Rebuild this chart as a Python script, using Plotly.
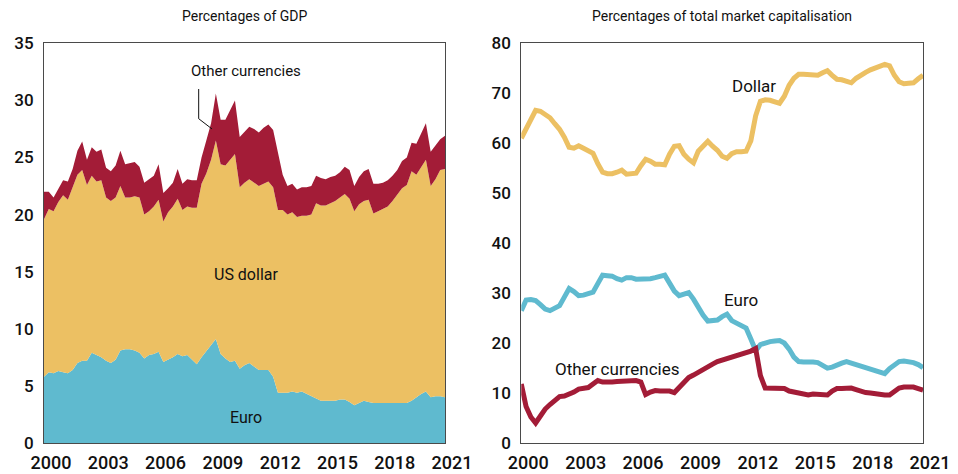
"""Two-panel chart: currency shares as % of GDP and % of market capitalisation."""

import plotly.graph_objects as go
from plotly.subplots import make_subplots

# quarterly observations, 2000 Q1 .. 2021 Q1
quarters = [2000 + q / 4 for q in range(85)]

# left panel: cumulative levels (% of GDP)
gdp_euro = [
    5.8, 6.2, 6.1, 6.3, 6.2, 6.1, 6.4, 7.0, 7.2, 7.2, 7.9, 7.7, 7.5, 7.2, 7.0, 7.3,
    8.1, 8.2, 8.2, 8.1, 7.9, 7.4, 7.7, 7.8, 8.0, 7.1, 7.3, 7.5, 7.8, 7.6, 7.7, 7.3,
    6.9, 7.5, 8.0, 8.6, 9.1, 7.8, 7.4, 7.1, 7.2, 6.5, 6.8, 7.0, 6.7, 6.4, 6.4, 6.4,
    5.8, 4.4, 4.4, 4.4, 4.5, 4.4, 4.5, 4.3, 4.1, 3.9, 3.7, 3.7, 3.7, 3.7, 3.8, 3.8,
    3.6, 3.3, 3.5, 3.7, 3.6, 3.5, 3.5, 3.5, 3.5, 3.5, 3.5, 3.5, 3.5, 3.7, 4.0, 4.3,
    4.5, 4.0, 4.1, 4.1, 4.0,
]
gdp_euro_plus_dollar = [
    19.6, 20.5, 20.3, 21.1, 21.7, 21.3, 22.4, 23.5, 23.9, 22.6, 23.4, 22.9, 23.0, 21.5, 21.2, 21.5,
    22.5, 21.5, 21.5, 21.6, 21.5, 20.0, 20.3, 20.7, 21.3, 19.4, 20.2, 20.7, 21.4, 20.4, 20.7, 20.6,
    20.6, 22.7, 23.6, 24.8, 26.5, 24.4, 24.3, 24.8, 25.3, 22.4, 22.8, 23.1, 22.8, 22.5, 22.7, 22.9,
    22.4, 20.4, 20.4, 20.0, 20.2, 19.8, 19.9, 19.9, 20.0, 21.0, 20.8, 20.8, 21.0, 21.2, 21.5, 21.8,
    21.4, 20.3, 20.9, 21.2, 21.3, 20.1, 20.3, 20.5, 20.7, 21.2, 21.7, 22.3, 22.6, 23.8, 23.5, 24.1,
    24.8, 22.5, 23.1, 23.9, 24.0,
]
gdp_total = [
    22.0, 22.0, 21.5, 22.2, 23.0, 22.9, 24.0, 25.6, 26.4, 24.8, 25.9, 25.5, 25.7, 24.1, 23.8, 24.3,
    25.6, 24.4, 24.5, 24.6, 24.2, 22.8, 23.1, 23.4, 24.4, 21.9, 22.3, 22.8, 24.0, 22.7, 23.1, 23.0,
    23.0, 25.0, 26.5, 28.0, 30.6, 28.3, 28.3, 29.2, 30.0, 26.8, 27.3, 27.7, 27.5, 27.2, 27.6, 27.9,
    27.4, 25.5, 23.5, 22.5, 22.7, 22.2, 22.4, 22.4, 22.5, 23.4, 23.2, 23.1, 23.3, 23.4, 23.7, 24.2,
    23.9, 22.5, 23.3, 23.8, 24.0, 22.7, 22.7, 22.8, 23.0, 23.4, 23.9, 24.7, 25.0, 26.3, 26.2, 27.1,
    28.0, 25.5, 26.0, 26.6, 26.9,
]

# right panel: % of total market capitalisation
mcap_dollar = [
    61.0, 63.0, 65.0, 66.6, 66.4, 65.8, 65.1, 63.9, 62.8, 61.2, 59.2, 59.0, 59.5, 59.0, 58.6, 58.0,
    55.9, 54.2, 53.9, 53.9, 54.2, 54.6, 53.8, 54.0, 54.0, 55.5, 56.8, 56.4, 55.8, 55.8, 55.7, 57.8,
    59.4, 59.5, 57.8, 56.8, 56.1, 58.4, 59.6, 60.4, 59.4, 58.6, 57.4, 57.0, 57.9, 58.3, 58.3, 58.4,
    60.5, 65.5, 68.4, 68.7, 68.6, 68.3, 68.0, 69.4, 71.6, 73.0, 73.8, 73.8, 73.8, 73.6, 73.6, 74.1,
    74.5, 73.6, 72.8, 72.7, 72.4, 72.1, 73.0, 73.7, 74.2, 74.7, 75.0, 75.3, 75.8, 75.5, 73.6, 72.3,
    71.9, 72.0, 72.1, 72.9, 73.6,
]
mcap_euro = [
    26.5, 28.6, 28.7, 28.5, 27.7, 26.8, 26.5, 26.9, 27.5, 29.2, 30.9, 30.3, 29.5, 29.6, 30.0, 30.2,
    31.9, 33.6, 33.5, 33.4, 32.9, 32.6, 33.1, 33.1, 32.8, 32.8, 32.7, 32.9, 33.1, 33.3, 33.6, 32.0,
    30.4, 29.5, 29.8, 30.1, 28.8, 27.0, 25.6, 24.4, 24.5, 24.6, 25.3, 25.8, 24.5, 24.0, 23.6, 23.0,
    20.8, 18.5, 19.7, 20.1, 20.3, 20.4, 20.5, 20.0, 18.8, 17.2, 16.3, 16.2, 16.3, 16.2, 16.1, 15.6,
    15.0, 15.2, 15.7, 16.0, 16.3, 16.0, 15.6, 15.2, 15.0, 14.8, 14.5, 14.2, 13.9, 14.9, 15.6, 16.3,
    16.4, 16.3, 16.1, 15.7, 15.1,
]
mcap_other = [
    11.8, 7.3, 5.2, 4.0, 5.4, 6.8, 7.7, 8.6, 9.3, 9.4, 9.7, 10.2, 10.8, 11.0, 11.1, 11.8,
    12.5, 12.2, 12.1, 12.2, 12.3, 12.3, 12.3, 12.4, 12.5, 12.2, 9.7, 10.2, 10.5, 10.4, 10.5, 10.4,
    10.1, 11.1, 11.9, 13.1, 13.6, 14.2, 14.6, 15.3, 15.8, 16.3, 16.6, 16.9, 17.2, 17.4, 17.6, 17.9,
    18.4, 18.9, 13.5, 11.0, 11.0, 11.0, 11.0, 10.9, 10.4, 10.2, 9.8, 9.7, 9.6, 9.8, 9.8, 9.7,
    9.6, 10.4, 10.9, 10.9, 10.9, 11.0, 10.7, 10.3, 10.1, 10.0, 9.8, 9.7, 9.6, 9.6, 10.2, 11.0,
    11.2, 11.3, 11.2, 10.9, 10.6,
]

year_ticks = [2000, 2003, 2006, 2009, 2012, 2015, 2018, 2021]

BLUE = "#5FBACF"
YELLOW = "#ECC063"
RED = "#A31C37"
FONT = "Roboto, 'Liberation Sans', sans-serif"

fig = make_subplots(rows=1, cols=2)

fig.add_trace(go.Scatter(x=quarters, y=gdp_euro, mode="lines", line=dict(width=0),
                         fill="tozeroy", fillcolor=BLUE, name="Euro"), row=1, col=1)
fig.add_trace(go.Scatter(x=quarters, y=gdp_euro_plus_dollar, mode="lines", line=dict(width=0),
                         fill="tonexty", fillcolor=YELLOW, name="US dollar"), row=1, col=1)
fig.add_trace(go.Scatter(x=quarters, y=gdp_total, mode="lines", line=dict(width=0),
                         fill="tonexty", fillcolor=RED, name="Other currencies"), row=1, col=1)

fig.add_trace(go.Scatter(x=quarters, y=mcap_dollar, mode="lines",
                         line=dict(color=YELLOW, width=5), name="Dollar"), row=1, col=2)
fig.add_trace(go.Scatter(x=quarters, y=mcap_euro, mode="lines",
                         line=dict(color=BLUE, width=5), name="Euro"), row=1, col=2)
fig.add_trace(go.Scatter(x=quarters, y=mcap_other, mode="lines",
                         line=dict(color=RED, width=5), name="Other currencies"), row=1, col=2)

axis_common = dict(showline=True, mirror=True, linecolor="#4a4a4a", linewidth=1,
                   showgrid=False, zeroline=False, ticks="", automargin=False)
fig.update_xaxes(**axis_common, range=[2000, 2021], tickvals=year_ticks,
                 ticklabelshift=7, ticklabelstandoff=3,
                 tickfont=dict(size=18, color="#111", weight=500))
fig.update_yaxes(**axis_common, ticklabelstandoff=6,
                 tickfont=dict(size=17, color="#111", weight=500))
# the page body adds an 8px offset, so the figure is laid out 8px smaller
fig.update_xaxes(domain=[0.0379, 0.46], row=1, col=1)
fig.update_xaxes(domain=[0.5403, 0.9632], row=1, col=2)
fig.update_yaxes(domain=[0.0665, 0.9242], range=[0, 35], dtick=5, row=1, col=1)
fig.update_yaxes(domain=[0.0665, 0.9242], range=[0, 80], dtick=10, row=1, col=2)

ann = []
ann.append(dict(x=0.249, y=0.982, xref="paper", yref="paper", text="Percentages of GDP",
                font=dict(size=14)))
ann.append(dict(x=0.7516, y=0.982, xref="paper", yref="paper",
                text="Percentages of total market capitalisation", font=dict(size=14)))
ann.append(dict(x=2010.6, y=32.6, xref="x", yref="y", text="Other currencies", font=dict(size=15)))
ann.append(dict(x=2010.6, y=14.8, xref="x", yref="y", text="US dollar", font=dict(size=16)))
ann.append(dict(x=2010.6, y=2.2, xref="x", yref="y", text="Euro", font=dict(size=16)))
ann.append(dict(x=2012.15, y=71.5, xref="x2", yref="y2", text="Dollar", font=dict(size=17)))
ann.append(dict(x=2011.5, y=28.6, xref="x2", yref="y2", text="Euro", font=dict(size=17)))
ann.append(dict(x=2005.0, y=14.9, xref="x2", yref="y2", text="Other currencies", font=dict(size=17)))
for a in ann:
    a.update(showarrow=False, xanchor="center", yanchor="middle")
    a["font"].update(color="#111")
fig.update_layout(annotations=ann)

# leader line for the "Other currencies" label on the left
fig.add_shape(type="path", xref="x", yref="y",
              path="M 2008.1 31.0 L 2008.1 28.4 L 2008.8 27.5",
              line=dict(color="#111", width=1))

fig.update_layout(
    width=950,
    height=466,
    margin=dict(l=0, r=0, t=0, b=0),
    showlegend=False,
    plot_bgcolor="white",
    paper_bgcolor="white",
    font=dict(family=FONT, color="#111"),
)

fig.write_html("out.html")
